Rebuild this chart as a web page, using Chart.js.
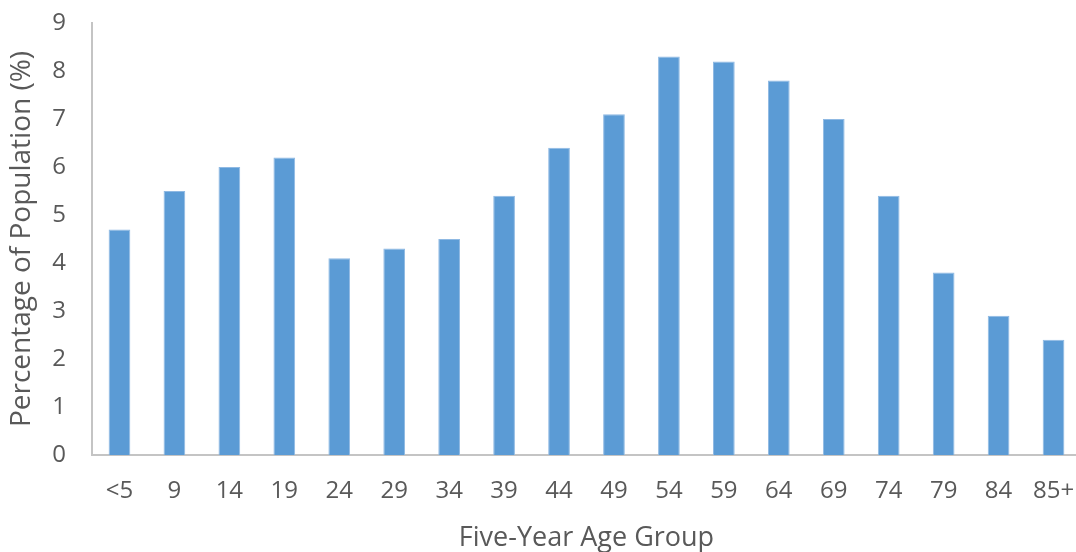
<!DOCTYPE html>
<html>
<head>
<meta charset="utf-8">
<script src="https://cdn.jsdelivr.net/npm/chart.js@4/dist/chart.umd.min.js"></script>
<style>
  html, body { margin: 0; padding: 0; background: #ffffff; overflow: hidden; width: 1076px; height: 552px; }
  canvas { display: block; }
</style>
</head>
<body>
<canvas id="chart" width="1081" height="552"></canvas>
<script>
const ageGroups = ['<5', '9', '14', '19', '24', '29', '34', '39', '44', '49', '54', '59', '64', '69', '74', '79', '84', '85+'];
const populationPct = [4.7, 5.5, 6.0, 6.2, 4.1, 4.3, 4.5, 5.4, 6.4, 7.1, 8.3, 8.2, 7.8, 7.0, 5.4, 3.8, 2.9, 2.4];
const yTicks = [0, 1, 2, 3, 4, 5, 6, 7, 8, 9];

const textColor = '#595959';
const axisColor = '#c4c4c4';
const fontFamily = '"Open Sans", "Noto Sans", sans-serif';

new Chart(document.getElementById('chart'), {
  type: 'bar',
  data: {
    labels: ageGroups,
    datasets: [{
      data: populationPct,
      backgroundColor: '#5b9bd5',
      borderColor: '#8fb9e3',
      borderWidth: 1,
      barPercentage: 0.395,
      categoryPercentage: 1.0
    }]
  },
  options: {
    responsive: false,
    animation: false,
    layout: { padding: { top: 23, right: 0, bottom: 0, left: 0 } },
    plugins: { legend: { display: false }, tooltip: { enabled: false } },
    scales: {
      x: {
        grid: { display: false, drawTicks: false },
        border: { display: true, color: axisColor, width: 2 },
        ticks: {
          color: textColor,
          font: { family: fontFamily, size: 24 },
          padding: 22,
          maxRotation: 0,
          autoSkip: false
        },
        title: {
          display: true,
          text: 'Five-Year Age Group',
          color: textColor,
          font: { family: fontFamily, size: 27 },
          padding: { top: 10, bottom: -3 }
        },
        afterFit: (scale) => {
          scale.height = 97;
          scale.paddingLeft = 0;
          scale.paddingRight = 0;
        }
      },
      y: {
        min: 0,
        max: 9,
        afterBuildTicks: (scale) => { scale.ticks = yTicks.map(v => ({ value: v })); },
        grid: { display: false, drawTicks: false },
        border: { display: true, color: axisColor, width: 2 },
        ticks: {
          color: textColor,
          font: { family: fontFamily, size: 24 },
          padding: 26
        },
        title: {
          display: true,
          text: 'Percentage of Population (%)',
          color: textColor,
          font: { family: fontFamily, size: 28 },
          padding: { top: 5, bottom: 0 }
        },
        afterFit: (scale) => {
          scale.width = 92;
          scale.paddingTop = 0;
          scale.paddingBottom = 0;
        }
      }
    }
  }
});
</script>
</body>
</html>
